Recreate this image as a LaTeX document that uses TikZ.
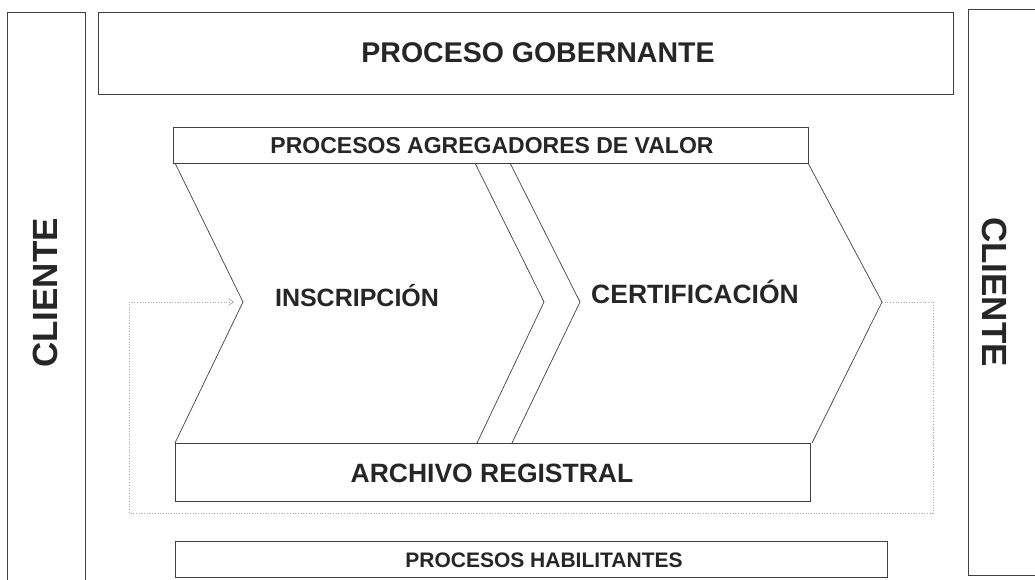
\documentclass[tikz,border=0pt]{standalone}
\usepackage{fontspec}
\setmainfont{Liberation Sans}
\usetikzlibrary{arrows.meta}
\begin{document}
\begin{tikzpicture}[x=1pt,y=-1pt,
  box/.style={draw=black!75,line width=0.9pt},
  chev/.style={draw=black!75,line width=0.7pt},
  loop/.style={draw=black!35,line width=0.7pt,dotted},
  lbl/.style={font=\bfseries,text=black!85,inner sep=0pt}]
\useasboundingbox (0,0) rectangle (1035,579);
\clip (0,0) rectangle (1035,579);
% client boxes
\draw[box] (7,12) rectangle (85,585);
\draw[box] (968,9) rectangle (1045,575);
\node[lbl,rotate=90,font=\fontsize{35}{36}\selectfont\bfseries] (cl1) at (45,293) {CLIENTE};
\node[lbl,rotate=-90,font=\fontsize{35}{36}\selectfont\bfseries] (cl2) at (995,292) {CLIENTE};
% governing
\draw[box] (98,12) rectangle (953,94);
\node[lbl,font=\fontsize{28.5}{30}\selectfont\bfseries] (gob) at (538,53) {PROCESO GOBERNANTE};
% value-adding
\draw[box] (173,127) rectangle (808,163);
\node[lbl,font=\fontsize{23}{25}\selectfont\bfseries] (agr) at (492,146) {PROCESOS AGREGADORES DE VALOR};
% chevrons
\coordinate (n1) at (243,302);
\coordinate (p1) at (544,302);
\coordinate (n2) at (580,302);
\coordinate (p2) at (882,302);
\draw[chev] (175,163) -- (n1) -- (175,443);
\draw[chev] (475,163) -- (p1) -- (477,443);
\draw[chev] (510,163) -- (n2) -- (512,443);
\draw[chev] (808,163) -- (p2) -- (812,443);
\node[lbl,font=\fontsize{25}{27}\selectfont\bfseries] (ins) at (357,296) {INSCRIPCIÓN};
\node[lbl,font=\fontsize{26.5}{28}\selectfont\bfseries] (cer) at (695,292) {CERTIFICACIÓN};
% archive
\draw[box] (175,443) rectangle (810,501);
\node[lbl,font=\fontsize{26.5}{28}\selectfont\bfseries] (arc) at (492,473) {ARCHIVO REGISTRAL};
% dotted loop
\coordinate (c1) at (933,302);
\coordinate (c2) at (933,513);
\coordinate (c3) at (129,513);
\coordinate (c4) at (129,302);
\draw[loop,-{Straight Barb[length=5pt,width=7pt,line width=0.6pt]}] (p2) -- (c1) -- (c2) -- (c3) -- (c4) -- ([xshift=-9pt]n1);
% enabling
\draw[box] (175,541) rectangle (887,577);
\node[lbl,font=\fontsize{21}{23}\selectfont\bfseries] (hab) at (544,560) {PROCESOS HABILITANTES};
\end{tikzpicture}
\end{document}
